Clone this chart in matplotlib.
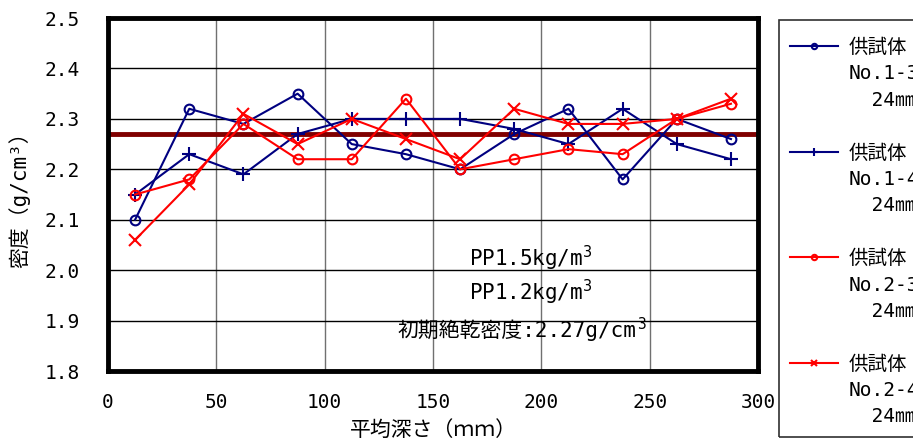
import matplotlib.pyplot as plt
from matplotlib.lines import Line2D
from matplotlib.patches import Rectangle

plt.rcParams['font.family'] = ['DejaVu Sans Mono', 'Noto Sans CJK JP']
plt.rcParams['mathtext.fontset'] = 'dejavusans'

# depth (mm) and measured density (g/cm3)
depth = [12.5, 37.5, 62.5, 87.5, 112.5, 137.5, 162.5, 187.5, 212.5, 237.5, 262.5, 287.5]
no_1_3 = [2.10, 2.32, 2.29, 2.35, 2.25, 2.23, 2.20, 2.27, 2.32, 2.18, 2.30, 2.26]
no_1_4 = [2.15, 2.23, 2.19, 2.27, 2.30, 2.30, 2.30, 2.28, 2.25, 2.32, 2.25, 2.22]
no_2_3 = [2.15, 2.18, 2.29, 2.22, 2.22, 2.34, 2.20, 2.22, 2.24, 2.23, 2.30, 2.33]
no_2_4 = [2.06, 2.17, 2.31, 2.25, 2.30, 2.26, 2.22, 2.32, 2.29, 2.29, 2.30, 2.34]
initial_density = 2.27

names = ['No.1-3', 'No.1-4', 'No.2-3', 'No.2-4']
x_ticks = [0, 50, 100, 150, 200, 250, 300]
y_ticks = [1.8, 1.9, 2.0, 2.1, 2.2, 2.3, 2.4, 2.5]

navy = '#000080'
red = '#ff0000'

fig = plt.figure(figsize=(9.13, 4.42), dpi=100)
ax = fig.add_axes([0.1183, 0.1606, 0.712, 0.7986])

l1, = ax.plot(depth, no_1_3, color=navy, lw=1.5, marker='o', ms=7, mfc='none', mew=1.5, zorder=3)
l2, = ax.plot(depth, no_1_4, color=navy, lw=1.5, marker='+', ms=10, mew=1.5, zorder=3)
l3, = ax.plot(depth, no_2_3, color=red, lw=1.5, marker='o', ms=7, mfc='none', mew=1.5, zorder=3)
l4, = ax.plot(depth, no_2_4, color=red, lw=1.5, marker='x', ms=8, mew=1.5, zorder=3)
ax.axhline(initial_density, color='#800000', lw=3.5, zorder=2.5)

ax.set_xlim(0, 300)
ax.set_ylim(1.8, 2.5)
ax.set_xticks(x_ticks)
ax.set_yticks(y_ticks)
ax.set_yticklabels(['%.1f' % v for v in y_ticks])
ax.tick_params(length=0, labelsize=14)
ax.tick_params(axis='y', pad=20)
ax.tick_params(axis='x', pad=16)
ax.xaxis.grid(True, color='#707070', lw=1)
ax.yaxis.grid(True, color='black', lw=1)
for sp in ax.spines.values():
    sp.set_linewidth(3.5)
    sp.set_zorder(4)

ax.set_xlabel('平均深さ（ｍｍ）', fontsize=15)
ax.set_ylabel('密度（g/cm³）', fontsize=15)
ax.xaxis.set_label_coords(0.5, -0.14)
ax.yaxis.set_label_coords(-0.12, 0.5)

# annotations in the plot
ax.text(166.4, 2.024, 'PP1.5kg/m$^3$', fontsize=15, va='center')
ax.text(166.4, 1.956, 'PP1.2kg/m$^3$', fontsize=15, va='center')
t = ax.text(133.6, 1.881, '初期絶乾密度:2.27g/cm', fontsize=15, va='center')
ax.annotate('3', xy=(1, 1), xycoords=t, xytext=(0.5, 2), textcoords='offset points',
            ha='left', va='top', fontsize=10.5)

# legend: 4 rows per entry (3 text lines + gap)
blank = Line2D([], [], linestyle='none')
handles = []
labels = []
for line, name in zip([l1, l2, l3, l4], names):
    handles += [line, blank, blank, blank]
    labels += ['供試体', name, '  24㎜', '']
fig.legend(handles, labels, loc='upper left', bbox_to_anchor=(0.8653, 0.914),
           frameon=False, fontsize=14, borderpad=0, borderaxespad=0,
           handlelength=2.47, handletextpad=0.52, markerscale=0.55,
           labelspacing=0.38)
fig.add_artist(Rectangle((0.8532, 0.0113), 0.3, 0.9435, transform=fig.transFigure,
                         fill=False, lw=1.2, ec='#303030'))

fig.savefig('out.png', dpi=100)
